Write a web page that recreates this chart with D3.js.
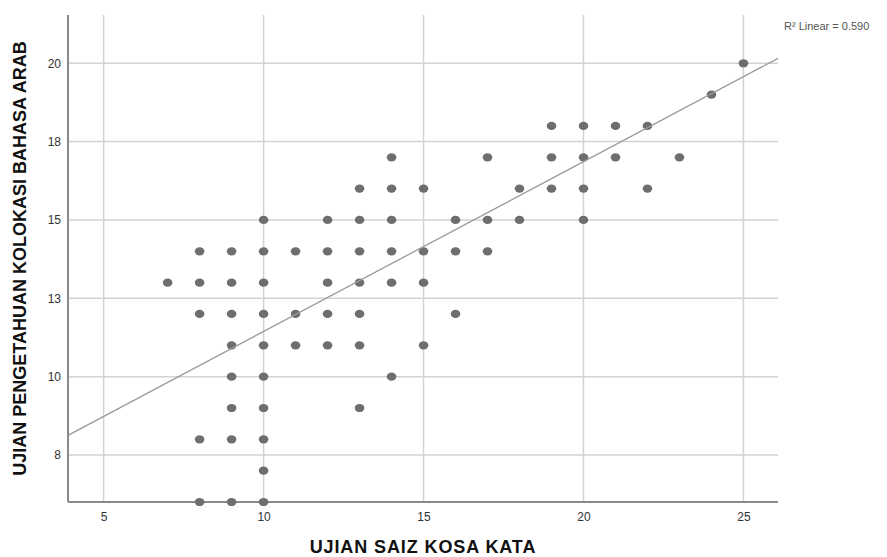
<!DOCTYPE html>
<html>
<head>
<meta charset="utf-8">
<script src="https://cdn.jsdelivr.net/npm/d3@7"></script>
<style>
  body { margin: 0; background: #fff; }
  svg { display: block; font-family: "Liberation Sans", Arial, sans-serif; }
</style>
</head>
<body>
<svg id="chart" width="887" height="557"></svg>
<script>
// points, one array per y value (x = saiz kosa kata)
var yValues = [20, 19, 18, 17, 16, 15, 14, 13, 12, 11, 10, 9, 8, 7, 6];
var xByRow = [
  [25],
  [24],
  [19, 20, 21, 22],
  [14, 17, 19, 20, 21, 23],
  [13, 14, 15, 18, 19, 20, 22],
  [10, 12, 13, 14, 16, 17, 18, 20],
  [8, 9, 10, 11, 12, 13, 14, 15, 16, 17],
  [7, 8, 9, 10, 12, 13, 14, 15],
  [8, 9, 10, 11, 12, 13, 16],
  [9, 10, 11, 12, 13, 15],
  [9, 10, 14],
  [9, 10, 13],
  [8, 9, 10],
  [10],
  [8, 9, 10]
];

var xTicks = [5, 10, 15, 20, 25];
var yTicks = [7.5, 10, 12.5, 15, 17.5, 20];

// fit line as drawn (R2 = 0.590)
var fitIntercept = 6.02;
var fitSlope = 0.542;
var r2Label = 'R\u00b2 Linear = 0.590';

var xTitle = 'UJIAN SAIZ KOSA KATA';
var yTitle = 'UJIAN PENGETAHUAN KOLOKASI BAHASA ARAB';

var points = [];
yValues.forEach(function(yv, i) {
  xByRow[i].forEach(function(xv) { points.push({x: xv, y: yv}); });
});

var plotLeft = 68, plotRight = 778, plotTop = 15, plotBottom = 502;

var x = d3.scaleLinear().domain([3.886, 26.08]).range([plotLeft, plotRight]);
var y = d3.scaleLinear().domain([6.0, 21.54]).range([plotBottom, plotTop]);

var svg = d3.select('#chart');

// grid
svg.append('g').selectAll('line')
  .data(yTicks)
  .enter().append('line')
  .attr('x1', plotLeft).attr('x2', plotRight)
  .attr('y1', function(d) { return y(d); })
  .attr('y2', function(d) { return y(d); })
  .attr('stroke', '#d2d2d2')
  .attr('stroke-width', 1.5);

svg.append('g').selectAll('line')
  .data(xTicks)
  .enter().append('line')
  .attr('x1', function(d) { return x(d); })
  .attr('x2', function(d) { return x(d); })
  .attr('y1', plotTop).attr('y2', plotBottom)
  .attr('stroke', '#d2d2d2')
  .attr('stroke-width', 1.5);

// axes
var xAxis = d3.axisBottom(x).tickValues(xTicks).tickSize(0).tickPadding(10);
var gx = svg.append('g')
  .attr('transform', 'translate(0,' + plotBottom + ')')
  .call(xAxis);
gx.select('.domain').attr('stroke', '#8a8a8a').attr('stroke-width', 2)
  .attr('d', 'M' + plotLeft + ',0H' + plotRight);
gx.selectAll('text').attr('font-size', 12).attr('fill', '#333')
  .attr('font-family', '"Liberation Sans", Arial, sans-serif');

var yAxis = d3.axisLeft(y).tickValues(yTicks).tickSize(0).tickPadding(7)
  .tickFormat(d3.format('.0f'));
var gy = svg.append('g')
  .attr('transform', 'translate(' + plotLeft + ',0)')
  .call(yAxis);
gy.select('.domain').attr('stroke', '#8a8a8a').attr('stroke-width', 2)
  .attr('d', 'M0,' + plotTop + 'V' + plotBottom);
gy.selectAll('text').attr('font-size', 12).attr('fill', '#333')
  .attr('font-family', '"Liberation Sans", Arial, sans-serif');

// points
svg.append('g').selectAll('ellipse')
  .data(points)
  .enter().append('ellipse')
  .attr('cx', function(d) { return x(d.x); })
  .attr('cy', function(d) { return y(d.y); })
  .attr('rx', 4.8)
  .attr('ry', 4.1)
  .attr('fill', '#6e6e6e');

// fit line
var x0 = x.domain()[0], x1 = x.domain()[1];
svg.append('line')
  .attr('x1', x(x0)).attr('y1', y(fitIntercept + fitSlope * x0))
  .attr('x2', x(x1)).attr('y2', y(fitIntercept + fitSlope * x1))
  .attr('stroke', '#999')
  .attr('stroke-width', 1.3);

svg.append('text')
  .attr('x', 784).attr('y', 30)
  .attr('font-size', 11)
  .attr('fill', '#555')
  .text(r2Label);

// titles
svg.append('text')
  .attr('x', (plotLeft + plotRight) / 2).attr('y', 553)
  .attr('text-anchor', 'middle')
  .attr('font-size', 18)
  .attr('font-weight', 'bold')
  .attr('letter-spacing', 0.9)
  .attr('fill', '#111')
  .text(xTitle);

svg.append('text')
  .attr('transform', 'translate(26,' + (plotTop + plotBottom) / 2 + ') rotate(-90)')
  .attr('text-anchor', 'middle')
  .attr('font-size', 18)
  .attr('font-weight', 'bold')
  .attr('fill', '#111')
  .text(yTitle);
</script>
</body>
</html>
